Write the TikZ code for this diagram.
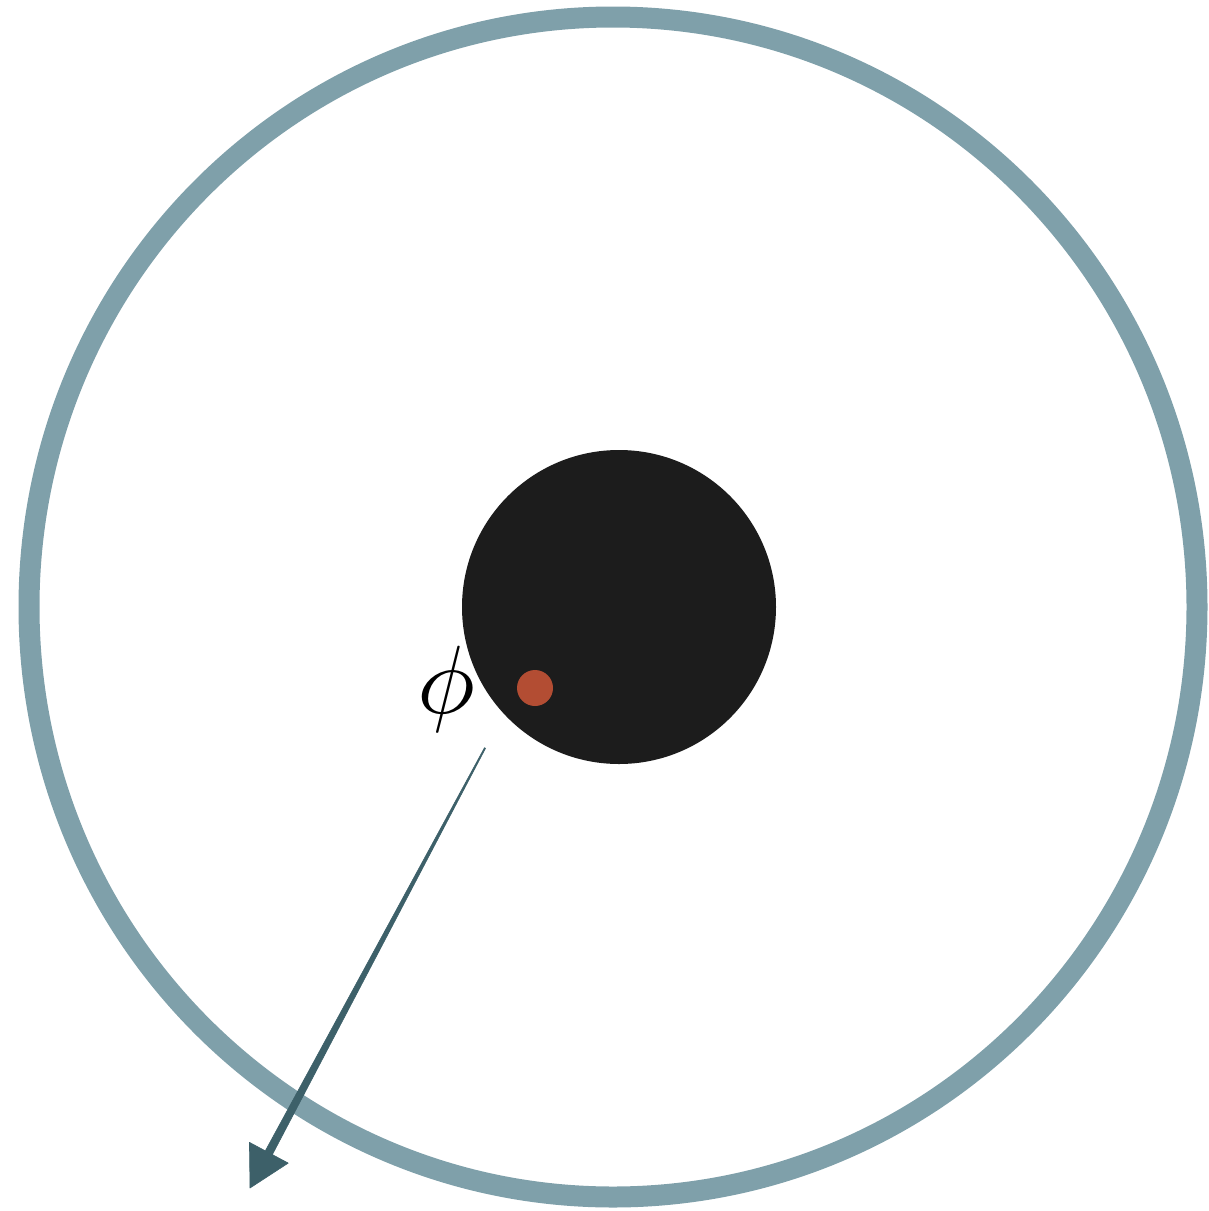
\documentclass[tikz,border=0pt]{standalone}
\usetikzlibrary{calc}
\definecolor{ringc}{HTML}{7FA0AA}
\definecolor{corec}{HTML}{1C1C1C}
\definecolor{dotc}{HTML}{B34D33}
\definecolor{arrowc}{HTML}{3D6069}
\tikzset{
  ringstyle/.style={draw=ringc, line width=21pt},
  corestyle/.style={fill=corec},
  dotstyle/.style={fill=dotc},
  arrowstyle/.style={fill=arrowc, draw=arrowc, line width=0.6pt, line join=round},
  labelstyle/.style={scale=9.7, inner sep=0pt}
}
\begin{document}
\begin{tikzpicture}[x=1pt,y=-1pt]
\useasboundingbox (0,0) rectangle (1209,1211);
\draw[ringstyle] (613,607) ellipse [x radius=584pt, y radius=590pt];
\fill[corestyle] (619,607) circle [radius=157pt];
\fill[dotstyle] (535,688) circle [radius=18pt];
\node[labelstyle] (phi) at (446,689) {$\phi$};
\coordinate (S) at (485,748);
\coordinate (T) at (250,1188);
\coordinate (B) at ($(T)!40pt!(S)$);
\fill[arrowstyle] ($(S)!0.6pt!90:(T)$) -- ($(B)!4pt!90:(T)$) -- ($(B)!22pt!90:(T)$) -- (T)
  -- ($(B)!22pt!-90:(T)$) -- ($(B)!4pt!-90:(T)$) -- ($(S)!0.6pt!-90:(T)$) -- cycle;
\end{tikzpicture}
\end{document}
